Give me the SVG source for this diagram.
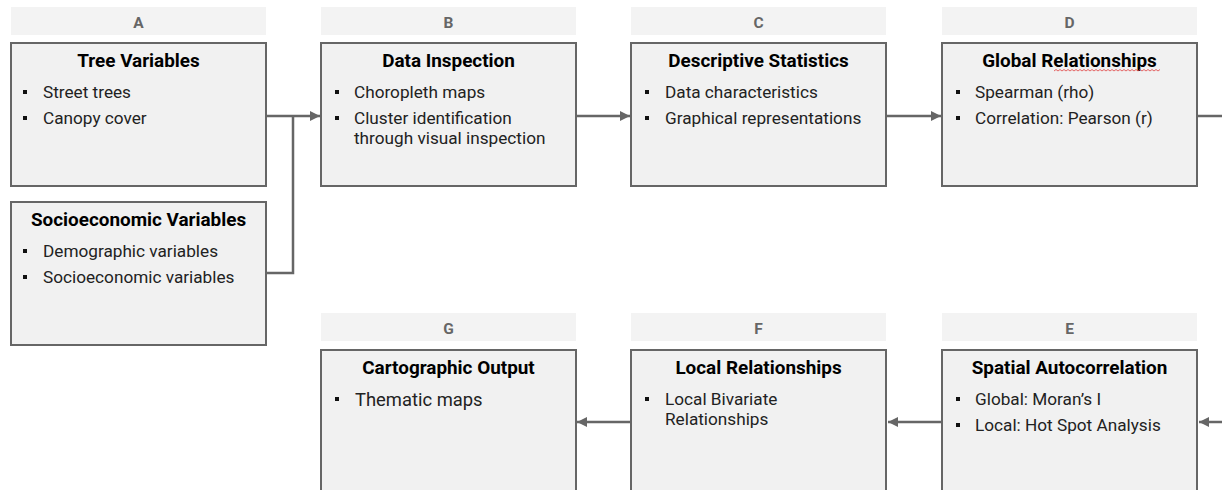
<svg xmlns="http://www.w3.org/2000/svg" width="1222" height="490" viewBox="0 0 1222 490">
<defs>
<style>
.hdr{fill:#f3f3f3}
.hl{font-family:Roboto,"Liberation Sans",sans-serif;font-weight:bold;font-size:15.5px;fill:#666;text-anchor:middle}
.box{fill:#f1f1f1;stroke:#666;stroke-width:2}
.t{font-family:Roboto,"Liberation Sans",sans-serif;font-weight:bold;font-size:18.9px;fill:#000;text-anchor:middle}
.b{font-family:Roboto,"Liberation Sans",sans-serif;font-size:17.2px;fill:#222}
.bb{font-family:Roboto,"Liberation Sans",sans-serif;font-size:18.4px;fill:#222}
.sq{fill:#111}
.c{fill:none;stroke:#666;stroke-width:2.5}
</style>
<marker id="ah" viewBox="0 0 10 10" refX="10" refY="5" markerWidth="4" markerHeight="4" orient="auto" markerUnits="strokeWidth">
<path d="M0,0 L10,5 L0,10 z" fill="#666"/>
</marker>
</defs>
<rect width="1222" height="490" fill="#fff"/>

<g id="nodeA">
<rect class="hdr" x="11" y="7" width="255" height="28"/>
<text class="hl" x="138.5" y="27.5">A</text>
<rect class="box" x="11" y="43" width="255" height="143"/>
<text class="t" x="138.5" y="67">Tree Variables</text>
<rect class="sq" x="23" y="90" width="4" height="4"/><text class="b" x="43" y="98">Street trees</text>
<rect class="sq" x="23" y="116" width="4" height="4"/><text class="b" x="43" y="124">Canopy cover</text>
</g>

<g id="nodeSocio">
<rect class="box" x="11" y="202" width="255" height="143"/>
<text class="t" x="138.5" y="226">Socioeconomic Variables</text>
<rect class="sq" x="23" y="249" width="4" height="4"/><text class="b" x="43" y="257">Demographic variables</text>
<rect class="sq" x="23" y="275" width="4" height="4"/><text class="b" x="43" y="283">Socioeconomic variables</text>
</g>

<g id="nodeB">
<rect class="hdr" x="321" y="7" width="255" height="28"/>
<text class="hl" x="448.5" y="27.5">B</text>
<rect class="box" x="321" y="43" width="255" height="143"/>
<text class="t" x="448.5" y="67">Data Inspection</text>
<rect class="sq" x="335" y="90" width="4" height="4"/><text class="b" x="354" y="98">Choropleth maps</text>
<rect class="sq" x="335" y="116" width="4" height="4"/><text class="b" x="354" y="124">Cluster identification</text>
<text class="b" x="354" y="144">through visual inspection</text>
</g>

<g id="nodeC">
<rect class="hdr" x="631" y="7" width="255" height="28"/>
<text class="hl" x="758.5" y="27.5">C</text>
<rect class="box" x="631" y="43" width="255" height="143"/>
<text class="t" x="758.5" y="67">Descriptive Statistics</text>
<rect class="sq" x="645" y="90" width="4" height="4"/><text class="b" x="665" y="98">Data characteristics</text>
<rect class="sq" x="645" y="116" width="4" height="4"/><text class="b" x="665" y="124">Graphical representations</text>
</g>

<g id="nodeD">
<rect class="hdr" x="942" y="7" width="255" height="28"/>
<text class="hl" x="1069.5" y="27.5">D</text>
<rect class="box" x="942" y="43" width="255" height="143"/>
<text class="t" x="1069.5" y="67">Global Relationships</text>
<path d="M1054,71 l2,-1.5 l2,1.5 l2,-1.5 l2,1.5 l2,-1.5 l2,1.5 l2,-1.5 l2,1.5 l2,-1.5 l2,1.5 l2,-1.5 l2,1.5 l2,-1.5 l2,1.5 l2,-1.5 l2,1.5 l2,-1.5 l2,1.5 l2,-1.5 l2,1.5 l2,-1.5 l2,1.5 l2,-1.5 l2,1.5 l2,-1.5 l2,1.5 l2,-1.5 l2,1.5 l2,-1.5 l2,1.5 l2,-1.5 l2,1.5 l2,-1.5 l2,1.5 l2,-1.5 l2,1.5 l2,-1.5 l2,1.5 l2,-1.5 l2,1.5 l2,-1.5 l2,1.5 l2,-1.5 l2,1.5 l2,-1.5 l2,1.5 l2,-1.5 l2,1.5 l2,-1.5 l2,1.5 l2,-1.5 l2,1.5 l2,-1.5" fill="none" stroke="#e04040" stroke-width="0.8"/>
<rect class="sq" x="956" y="90" width="4" height="4"/><text class="b" x="975" y="98">Spearman (rho)</text>
<rect class="sq" x="956" y="116" width="4" height="4"/><text class="b" x="975" y="124">Correlation: Pearson (r)</text>
</g>

<g id="nodeG">
<rect class="hdr" x="321" y="313" width="255" height="28"/>
<text class="hl" x="448.5" y="333.5">G</text>
<rect class="box" x="321" y="350" width="255" height="150"/>
<text class="t" x="448.5" y="374">Cartographic Output</text>
<rect class="sq" x="335" y="397" width="4" height="4"/><text class="bb" x="355" y="406">Thematic maps</text>
</g>

<g id="nodeF">
<rect class="hdr" x="631" y="313" width="255" height="28"/>
<text class="hl" x="758.5" y="333.5">F</text>
<rect class="box" x="631" y="350" width="255" height="150"/>
<text class="t" x="758.5" y="374">Local Relationships</text>
<rect class="sq" x="645" y="397" width="4" height="4"/><text class="b" x="665" y="405">Local Bivariate</text>
<text class="b" x="665" y="425">Relationships</text>
</g>

<g id="nodeE">
<rect class="hdr" x="942" y="313" width="255" height="28"/>
<text class="hl" x="1069.5" y="333.5">E</text>
<rect class="box" x="942" y="350" width="255" height="150"/>
<text class="t" x="1069.5" y="374">Spatial Autocorrelation</text>
<rect class="sq" x="956" y="397" width="4" height="4"/><text class="b" x="975" y="405">Global: Moran’s I</text>
<rect class="sq" x="956" y="423" width="4" height="4"/><text class="b" x="975" y="431">Local: Hot Spot Analysis</text>
</g>

<g id="connectors">
<path class="c" d="M267,116 H320" marker-end="url(#ah)"/>
<path class="c" d="M267,273 H293 V116"/>
<path class="c" d="M577,116 H630" marker-end="url(#ah)"/>
<path class="c" d="M887,116 H941" marker-end="url(#ah)"/>
<path class="c" d="M1198,116 H1222"/>
<path class="c" d="M1222,422 H1199" marker-end="url(#ah)"/>
<path class="c" d="M941,422 H888" marker-end="url(#ah)"/>
<path class="c" d="M630,422 H577" marker-end="url(#ah)"/>
</g>
</svg>
